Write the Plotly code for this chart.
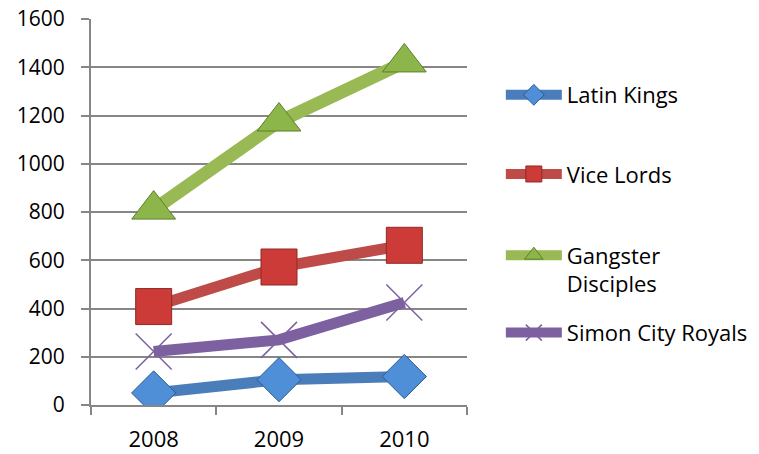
import plotly.graph_objects as go

years = ["2008", "2009", "2010"]
latin_kings = [50, 105, 118]
vice_lords = [408, 572, 662]
gangster_disciples = [810, 1175, 1420]
simon_city_royals = [222, 270, 425]

series = [
    ("Latin Kings", latin_kings, "#4A7EBB", "diamond", "#4F8FD8", "#2C5A93", 11, 34, 0.803),
    ("Vice Lords", vice_lords, "#BE4B48", "square", "#CC3B37", "#8E2A28", 11, 36, 0.598),
    ("Gangster<br>Disciples", gangster_disciples, "#98B954", "triangle-up", "#8DB64A", "#5E7F2C", 13, 38, 0.350),
    ("Simon City Royals", simon_city_royals, "#7D60A0", "x-thin-open", "#7D60A0", "#7D60A0", 11, 36, 0.187),
]

FONT = "Open Sans"
FS = 22
fig = go.Figure()
legends = {}
for i, (name, vals, lc, sym, mc, mlc, lw, ms, ly) in enumerate(series):
    open_sym = sym.endswith("open")
    lname = "legend" if i == 0 else f"legend{i+1}"
    fig.add_trace(go.Scatter(
        x=years, y=vals, name=name, mode="lines+markers",
        line=dict(color=lc, width=lw),
        marker=dict(symbol=sym, size=ms, color=mc,
                    line=dict(color=mlc, width=1.5 if open_sym else 1)),
        legend=lname,
    ))
    legends[lname] = dict(x=1.09, xanchor="left", y=ly, yanchor="middle",
                          itemwidth=56, valign="top",
                          font=dict(family=FONT, size=FS, color="#000000"),
                          bgcolor="rgba(0,0,0,0)")

fig.update_layout(
    width=759, height=454,
    margin=dict(l=91, r=292, t=19, b=49, autoexpand=False),
    paper_bgcolor="white", plot_bgcolor="white",
    font=dict(family=FONT, size=FS, color="#000000"),
    showlegend=True,
    **legends,
)
fig.update_xaxes(
    type="category", range=[-0.5, 2.5], automargin=False,
    showline=True, linecolor="#868686", linewidth=1.5,
    ticks="outside", tickson="boundaries", ticklen=8, tickcolor="#868686", tickwidth=1.5,
    showgrid=False, tickfont=dict(size=FS), ticklabelstandoff=14,
)
fig.update_yaxes(
    range=[0, 1600], dtick=200, tick0=0, automargin=False,
    showline=True, linecolor="#868686", linewidth=2,
    ticks="outside", ticklen=8, tickcolor="#868686", tickwidth=1.5,
    showgrid=True, gridcolor="#868686", gridwidth=1.5,
    zeroline=False, tickfont=dict(size=FS - 1), ticklabelstandoff=12,
)

fig.write_html("out.html")
